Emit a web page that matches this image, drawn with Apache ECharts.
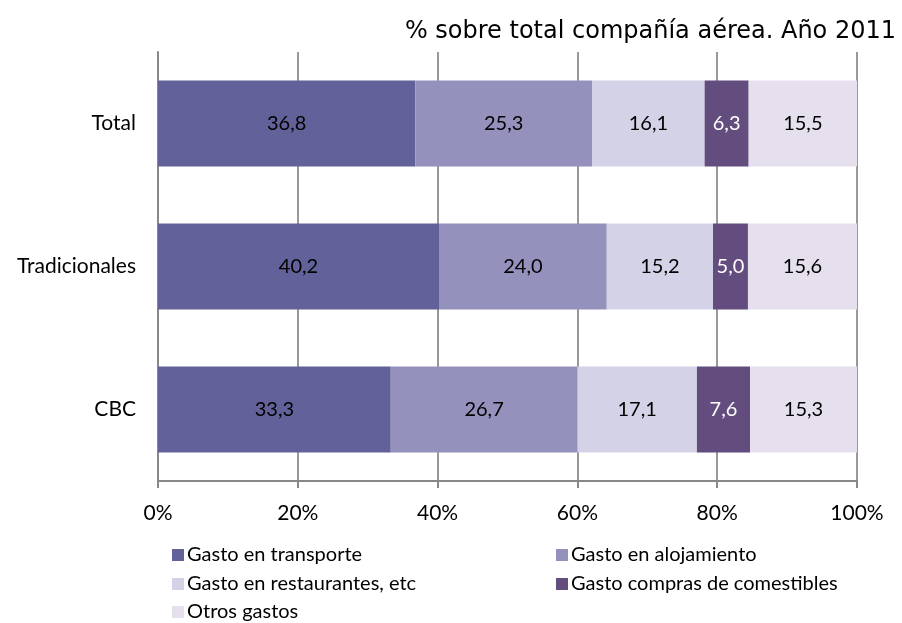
<!DOCTYPE html>
<html>
<head>
<meta charset="utf-8">
<script src="https://cdn.jsdelivr.net/npm/echarts@6/dist/echarts.min.js"></script>
<style>
  html, body { margin: 0; padding: 0; background: #fff; }
  #chart { width: 902px; height: 623px; }
</style>
</head>
<body>
<div id="chart"></div>
<script>
// Spending breakdown by airline type, percent of total
const categories = ['Total', 'Tradicionales', 'CBC'];
const seriesNames = [
  'Gasto en transporte',
  'Gasto en alojamiento',
  'Gasto en restaurantes, etc',
  'Gasto compras de comestibles',
  'Otros gastos'
];
const transporte = [36.8, 40.2, 33.3];
const alojamiento = [25.3, 24.0, 26.7];
const restaurantes = [16.1, 15.2, 17.1];
const comestibles = [6.3, 5.0, 7.6];
const otros = [15.5, 15.6, 15.3];
const xTicks = [0, 20, 40, 60, 80, 100];

const values = [transporte, alojamiento, restaurantes, comestibles, otros];
const colors = ['#626199', '#9491BC', '#D4D2E7', '#634C7E', '#E6DFEE'];
const labelColors = ['#000', '#000', '#000', '#fff', '#000'];
const labelFont = 'Lato, "Open Sans", sans-serif';

const chart = echarts.init(document.getElementById('chart'), null, { renderer: 'canvas' });

const series = seriesNames.map((name, i) => ({
  name,
  type: 'bar',
  stack: 'total',
  barWidth: 86,
  data: values[i],
  itemStyle: { color: colors[i] },
  label: {
    show: true,
    position: 'inside',
    color: labelColors[i],
    fontFamily: labelFont,
    fontSize: 20,
    formatter: p => p.value.toFixed(1).replace('.', ',')
  },
  emphasis: { disabled: true }
}));

// Legend laid out in two columns, one entry per legend box
const legendSlots = [
  { name: seriesNames[0], left: 172, top: 545 },
  { name: seriesNames[1], left: 556, top: 545 },
  { name: seriesNames[2], left: 172, top: 574 },
  { name: seriesNames[3], left: 556, top: 574 },
  { name: seriesNames[4], left: 172, top: 602 }
];
const legends = legendSlots.map(s => ({
  data: [s.name],
  left: s.left,
  top: s.top,
  padding: 0,
  itemWidth: 12,
  itemHeight: 12,
  icon: 'rect',
  selectedMode: false,
  textStyle: { fontFamily: labelFont, fontSize: 20, color: '#000', padding: [0, 0, 0, -2] }
}));

chart.setOption({
  animation: false,
  title: {
    text: '% sobre total compañía aérea. Año 2011',
    right: 1,
    top: 15,
    textStyle: {
      fontFamily: '"DejaVu Sans", Verdana, sans-serif',
      fontWeight: 'normal',
      fontSize: 24,
      color: '#000'
    }
  },
  grid: { left: 158, right: 45, top: 52, bottom: 142 },
  xAxis: {
    type: 'value',
    min: 0,
    max: 100,
    interval: 20,
    axisLine: { show: true, lineStyle: { color: '#888', width: 2 } },
    axisTick: { show: true, length: 7, lineStyle: { color: '#888', width: 2 } },
    splitLine: { show: true, lineStyle: { color: '#999', width: 2 } },
    axisLabel: {
      margin: 22,
      fontFamily: labelFont,
      fontSize: 21,
      color: '#000',
      formatter: v => (xTicks.includes(v) ? v + '%' : '')
    }
  },
  yAxis: {
    type: 'category',
    inverse: true,
    data: categories,
    axisLine: { show: true, lineStyle: { color: '#888', width: 2 } },
    axisTick: { show: false },
    axisLabel: {
      margin: 22,
      fontFamily: labelFont,
      fontSize: 21,
      color: '#000'
    }
  },
  legend: legends,
  series
});
</script>
</body>
</html>
